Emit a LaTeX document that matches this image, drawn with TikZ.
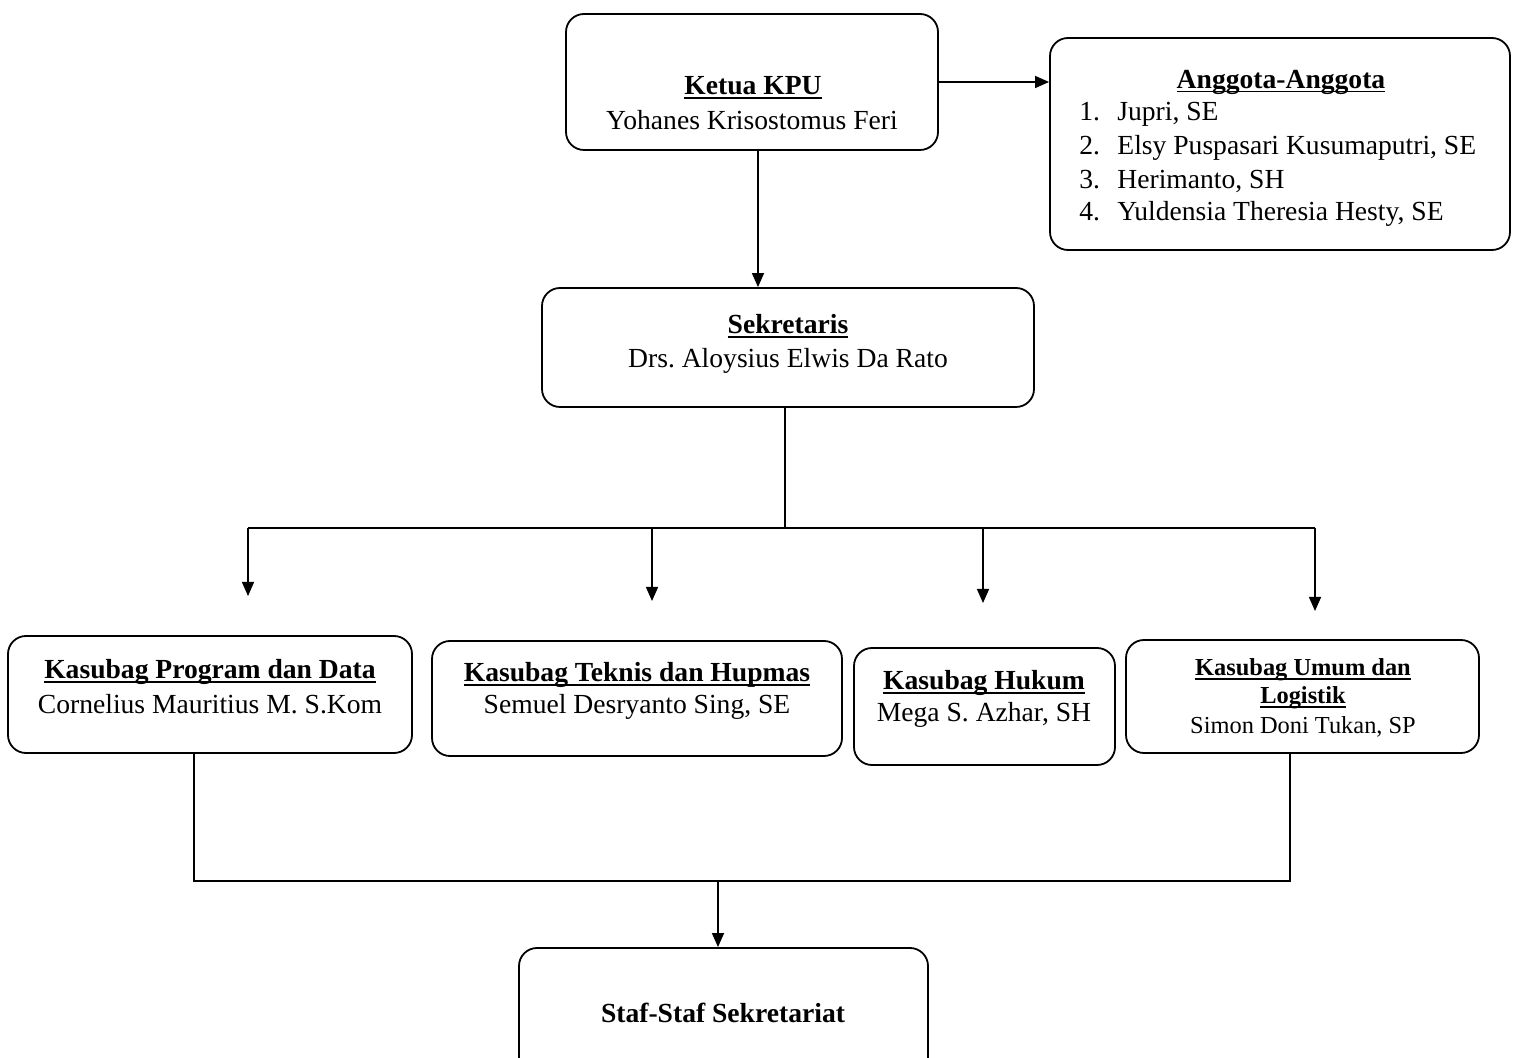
\documentclass[tikz,border=0pt]{standalone}
\usepackage{fontspec}
\setmainfont{Liberation Serif}
\usetikzlibrary{arrows.meta}
\newcommand\myul[1]{\setbox0\hbox{#1}\rlap{\rule[-2.2pt]{\wd0}{0.9pt}}\box0}
\frenchspacing
\begin{document}
\begin{tikzpicture}[x=0.5pt,y=-0.5pt,
 box/.style={draw, line width=0.9pt, rounded corners=9pt, inner sep=0pt},
 lbl/.style={font=\fontsize{13.8}{16}\selectfont, inner sep=0pt, anchor=center},
 smlbl/.style={font=\fontsize{12.2}{14}\selectfont, inner sep=0pt, anchor=center},
 ttl/.style={lbl, font=\fontsize{13.8}{16}\selectfont\bfseries},
 smttl/.style={smlbl, font=\fontsize{12.2}{14}\selectfont\bfseries},
 item/.style={lbl, anchor=west},
 arr/.style={line width=0.7pt, -{Triangle[length=7pt,width=6pt]}},
 ln/.style={line width=0.7pt}]
\clip (0,0) rectangle (1517,1058);
\fill[white] (0,0) rectangle (1517,1058);

% boxes
\node[box, minimum width=186pt, minimum height=68pt] (ketua) at (752,82) {};
\node[box, minimum width=230pt, minimum height=106pt] (anggota) at (1280,144) {};
\node[box, minimum width=246pt, minimum height=59.5pt] (sek) at (788,347.5) {};
\node[box, minimum width=202pt, minimum height=58.5pt] (prog) at (210,694.5) {};
\node[box, minimum width=205pt, minimum height=57.5pt] (teknis) at (637,698.5) {};
\node[box, minimum width=130.5pt, minimum height=58.5pt] (hukum) at (984.5,706.5) {};
\node[box, minimum width=176.5pt, minimum height=56.5pt] (umum) at (1302.5,696.5) {};
\node[box, minimum width=204.5pt, minimum height=66pt] (staf) at (723.5,1014) {};

% texts
\node[ttl] (ketuaT) at (753,88) {\myul{Ketua KPU}};
\node[lbl] (ketuaN) at (752,120) {Yohanes Krisostomus Feri};

\node[ttl] (anggotaT) at (1281,82) {\myul{Anggota-Anggota}};
\node[item] (a1) at (1079,114) {\makebox[19pt][l]{1.}Jupri, SE};
\node[item] (a2) at (1079,148) {\makebox[19pt][l]{2.}Elsy Puspasari Kusumaputri, SE};
\node[item] (a3) at (1079,181) {\makebox[19pt][l]{3.}Herimanto, SH};
\node[item] (a4) at (1079,214) {\makebox[19pt][l]{4.}Yuldensia Theresia Hesty, SE};

\node[ttl] (sekT) at (788,326) {\myul{Sekretaris}};
\node[lbl] (sekN) at (788,361) {Drs. Aloysius Elwis Da Rato};

\node[ttl] (progT) at (210,672) {\myul{Kasubag Program dan Data}};
\node[lbl] (progN) at (210,704) {Cornelius Mauritius M. S.Kom};

\node[ttl] (teknisT) at (637,675) {\myul{Kasubag Teknis dan Hupmas}};
\node[lbl] (teknisN) at (637,707) {Semuel Desryanto Sing, SE};

\node[ttl] (hukumT) at (984,683) {\myul{Kasubag Hukum}};
\node[lbl] (hukumN) at (984,715) {Mega S. Azhar, SH};

\node[smttl] (umumT1) at (1303,670) {\myul{Kasubag Umum dan}};
\node[smttl] (umumT2) at (1303,698) {\myul{Logistik}};
\node[smlbl] (umumN) at (1303,727) {Simon Doni Tukan, SP};

\node[ttl] (stafT) at (723,1013) {Staf-Staf Sekretariat};

% connectors
\draw[arr] (ketua.east) -- (ketua.east -| anggota.west);
\draw[arr] ([xshift=3pt]ketua.south) -- ([xshift=3pt]ketua.south |- sek.north);

\coordinate (bus) at (785,528);
\coordinate (b1) at (248,528);
\coordinate (b2) at (652,528);
\coordinate (b3) at (983,528);
\coordinate (b4) at (1315,528);
\coordinate (t1) at (248,596);
\coordinate (t2) at (652,601);
\coordinate (t3) at (983,603);
\coordinate (t4) at (1315,611);
\draw[ln] ([xshift=-1.5pt]sek.south) -- (bus);
\draw[ln] (b1) -- (b4);
\draw[arr] (b1) -- (t1);
\draw[arr] (b2) -- (t2);
\draw[arr] (b3) -- (t3);
\draw[arr] (b4) -- (t4);

\coordinate (j) at (718,880);
\draw[ln] ([xshift=-8pt]prog.south) -- ++(0,127) -| ([xshift=-6.25pt]umum.south);
\draw[arr] (j) -- (j |- staf.north);
\end{tikzpicture}
\end{document}
